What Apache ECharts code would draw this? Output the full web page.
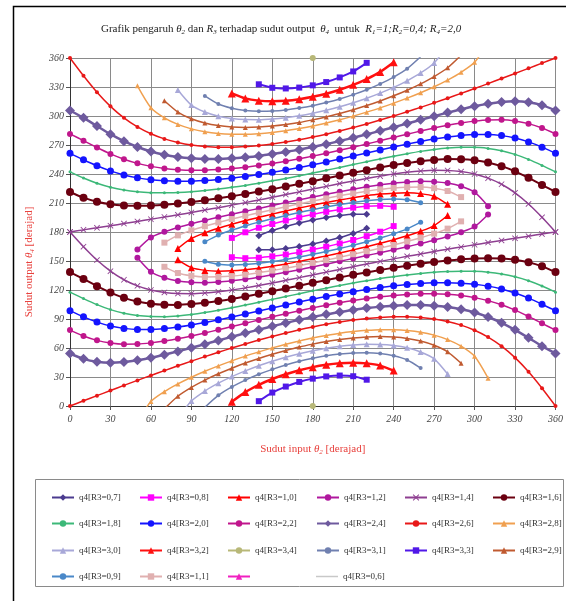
<!DOCTYPE html>
<html><head><meta charset="utf-8">
<script src="https://cdn.jsdelivr.net/npm/echarts@6/dist/echarts.min.js"></script>
<style>html,body{margin:0;padding:0;background:#fff}#c{width:566px;height:601px}</style>
</head><body><div id="c"></div>
<script>
const _ = null;
// input angle theta2 (degrees)
const theta2 = [0,10,20,30,40,50,60,70,80,90,100,110,120,130,140,150,160,170,180,190,200,210,220,230,240,250,260,270,280,290,300,310,320,330,340,350,360];
const xTicks = [0,30,60,90,120,150,180,210,240,270,300,330,360];
const yTicks = [0,30,60,90,120,150,180,210,240,270,300,330,360];

// output angle theta4 (degrees): two branches per R3, null = not assembled
const R3_06_up = [_,_,_,_,_,_,_,_,_,_, _,_,_,_,_,_,_,_, 180.0, _,_,_,_,_,_,_,_,_,_, _,_,_,_,_,_,_,_];
const R3_06_lo = [_,_,_,_,_,_,_,_,_,_, _,_,_,_,_,_,_,_, 180.0, _,_,_,_,_,_,_,_,_,_, _,_,_,_,_,_,_,_];
const R3_07_up = [_,_,_,_,_,_,_,_,_,_, _,_,_,_, 176.2,181.5,185.7,189.3,192.4,195.0,197.1,198.4,198.4, _,_,_,_,_,_,_,_,_,_, _,_,_,_];
const R3_07_lo = [_,_,_,_,_,_,_,_,_,_, _,_,_,_, 161.6,161.6,162.9,165.0,167.6,170.7,174.3,178.5,183.8, _,_,_,_,_,_,_,_,_,_, _,_,_,_];
const R3_08_up = [_,_,_,_,_,_,_,_,_,_, _,_, 173.9,179.7,184.4,188.3,191.9,195.2,198.2,200.9,203.3,205.2,206.6,207.1,206.1, _,_,_,_,_,_,_,_,_,_, _,_];
const R3_08_lo = [_,_,_,_,_,_,_,_,_,_, _,_, 153.9,152.9,153.4,154.8,156.7,159.1,161.8,164.8,168.1,171.7,175.7,180.3,186.1, _,_,_,_,_,_,_,_,_,_, _,_];
const R3_09_up = [_,_,_,_,_,_,_,_,_,_, 169.8,176.8,182.0,186.3,190.2,193.7,197.0,200.2,203.1,205.9,208.4,210.6,212.4,213.7,214.2,213.4,210.3, _,_,_,_,_,_,_,_,_,_];
const R3_09_lo = [_,_,_,_,_,_,_,_,_,_, 149.7,146.6,145.9,146.3,147.6,149.4,151.6,154.1,156.9,159.8,163.0,166.3,169.9,173.7,178.1,183.2,190.2, _,_,_,_,_,_,_,_,_,_];
const R3_10_up = [_,_,_,_,_,_,_,_, 162.9,173.3,179.2,183.9,188.0,191.8,195.2,198.5,201.7,204.8,207.7,210.5,213.1,215.4,217.5,219.2,220.2,220.5,219.7,216.9,208.8, _,_,_,_,_,_,_,_];
const R3_10_lo = [_,_,_,_,_,_,_,_, 151.2,143.1,140.3,139.5,139.8,140.9,142.5,144.6,146.9,149.6,152.3,155.3,158.3,161.5,164.8,168.3,172.0,176.1,180.8,186.7,197.1, _,_,_,_,_,_,_,_];
const R3_11_up = [_,_,_,_,_,_,_, 169.0,176.5,181.7,186.0,189.8,193.4,196.7,199.9,203.0,206.1,209.1,212.0,214.8,217.5,219.9,222.2,224.1,225.6,226.4,226.5,225.3,222.4,216.1, _,_,_,_,_,_,_];
const R3_11_lo = [_,_,_,_,_,_,_, 144.0,137.6,134.7,133.5,133.6,134.4,135.9,137.8,140.1,142.6,145.2,148.0,150.9,153.9,157.0,160.1,163.3,166.6,170.2,174.0,178.3,183.5,191.0, _,_,_,_,_,_,_];
const R3_12_up = [_,_,_,_,_, 161.8,174.4,180.2,184.7,188.5,192.0,195.2,198.3,201.4,204.4,207.4,210.4,213.3,216.2,219.0,221.7,224.3,226.7,228.8,230.5,231.8,232.4,232.1,230.6,227.3,221.2,206.6, _,_,_,_,_];
const R3_12_lo = [_,_,_,_,_, 153.4,138.8,132.7,129.4,127.9,127.6,128.2,129.5,131.2,133.3,135.7,138.3,141.0,143.8,146.7,149.7,152.6,155.6,158.6,161.7,164.8,168.1,171.5,175.3,179.8,185.6,198.2, _,_,_,_,_];
const R3_14_up = [180.0,182.2,184.3,186.5,188.7,190.9,193.2,195.5,197.8,200.2,202.7,205.2,207.8,210.4,213.1,215.9,218.7,221.5,224.4,227.2,230.1,232.8,235.4,237.8,240.0,241.8,243.1,243.8,243.7,242.5,240.0,235.7,229.4,220.5,209.0,195.2,180.0];
const R3_14_lo = [180.0,164.8,151.0,139.5,130.6,124.3,120.0,117.5,116.3,116.2,116.9,118.2,120.0,122.2,124.6,127.2,130.0,132.8,135.6,138.5,141.3,144.1,146.9,149.6,152.2,154.8,157.3,159.8,162.2,164.5,166.8,169.1,171.3,173.5,175.7,177.9,180.0];
const R3_16_up = [221.4,215.5,211.3,208.7,207.4,207.1,207.5,208.3,209.5,211.0,212.8,214.8,217.0,219.3,221.8,224.3,227.0,229.8,232.6,235.5,238.4,241.2,244.0,246.7,249.2,251.4,253.3,254.6,255.4,255.3,254.3,252.0,248.1,242.8,236.0,228.6,221.4];
const R3_16_lo = [138.6,131.4,124.0,117.3,111.9,108.1,105.7,104.7,104.6,105.4,106.8,108.6,110.8,113.3,116.0,118.8,121.6,124.5,127.4,130.2,133.0,135.7,138.2,140.7,143.0,145.2,147.2,149.0,150.5,151.7,152.6,152.9,152.6,151.3,148.7,144.5,138.6];
const R3_18_up = [242.2,235.8,230.4,226.3,223.4,221.6,220.7,220.5,220.9,221.7,222.9,224.4,226.2,228.2,230.5,232.9,235.4,238.1,241.0,243.8,246.8,249.8,252.7,255.6,258.4,261.0,263.4,265.3,266.8,267.6,267.6,266.5,264.1,260.3,255.1,248.9,242.2];
const R3_18_lo = [117.8,111.1,104.9,99.7,95.9,93.5,92.5,92.4,93.2,94.7,96.7,99.0,101.6,104.4,107.3,110.3,113.2,116.2,119.1,121.9,124.6,127.2,129.6,131.8,133.8,135.6,137.1,138.3,139.1,139.5,139.3,138.4,136.6,133.7,129.6,124.2,117.8];
const R3_20_up = [261.4,254.7,248.5,243.2,239.0,236.0,234.0,232.9,232.4,232.6,233.2,234.3,235.7,237.4,239.4,241.7,244.1,246.7,249.5,252.4,255.5,258.6,261.7,264.8,267.9,270.9,273.7,276.2,278.3,279.9,280.8,280.8,279.7,277.2,273.2,267.8,261.4];
const R3_20_lo = [98.6,92.2,86.8,82.8,80.3,79.2,79.2,80.1,81.7,83.8,86.3,89.1,92.1,95.2,98.3,101.4,104.5,107.6,110.5,113.3,115.9,118.3,120.6,122.6,124.3,125.7,126.8,127.4,127.6,127.1,126.0,124.0,121.0,116.9,111.6,105.3,98.6];
const R3_22_up = [281.5,274.5,267.4,260.8,255.3,251.0,247.9,245.8,244.5,243.9,244.0,244.6,245.6,247.0,248.8,250.8,253.2,255.7,258.5,261.4,264.5,267.7,271.0,274.4,277.8,281.2,284.4,287.5,290.4,292.8,294.7,295.9,296.0,294.9,292.1,287.6,281.5];
const R3_22_lo = [78.5,72.4,67.9,65.2,64.0,64.1,65.3,67.2,69.6,72.5,75.6,78.8,82.2,85.6,89.0,92.3,95.5,98.6,101.5,104.3,106.9,109.2,111.2,113.0,114.4,115.4,116.0,116.1,115.5,114.2,112.1,109.0,104.7,99.2,92.6,85.5,78.5];
const R3_24_up = [305.7,298.1,289.6,281.2,273.9,267.9,263.3,259.9,257.6,256.2,255.6,255.6,256.2,257.3,258.7,260.6,262.8,265.2,268.0,270.9,274.1,277.5,281.0,284.7,288.4,292.2,296.0,299.8,303.5,306.9,310.1,312.7,314.6,315.3,314.3,311.2,305.7];
const R3_24_lo = [54.3,48.8,45.7,44.7,45.5,47.3,49.9,53.1,56.5,60.2,64.0,67.8,71.6,75.4,79.0,82.5,85.9,89.1,92.1,94.8,97.3,99.4,101.3,102.8,103.8,104.4,104.4,103.8,102.4,100.1,96.8,92.1,86.1,78.8,70.5,61.9,54.3];
const R3_26_up = [360.0,341.6,324.6,310.0,298.1,288.7,281.6,276.3,272.6,270.0,268.5,267.8,267.8,268.4,269.6,271.1,273.1,275.5,278.2,281.2,284.5,288.0,291.8,295.8,300.0,304.4,308.9,313.6,318.4,323.4,328.4,333.5,338.8,344.0,349.3,354.7,360.0];
const R3_26_lo = [0.0,5.4,10.7,16.0,21.3,26.5,31.6,36.6,41.6,46.4,51.1,55.6,60.0,64.2,68.2,72.0,75.5,78.8,81.8,84.5,86.9,88.9,90.5,91.6,92.2,92.2,91.5,90.0,87.5,83.7,78.4,71.3,61.9,50.0,35.4,18.4,0.0];
const R3_28_up = [_,_,_,_,_, 331.2,308.6,298.1,291.3,286.7,283.7,281.9,281.1,281.0,281.7,283.0,284.7,287.0,289.6,292.7,296.1,299.9,304.0,308.4,313.3,318.5,324.1,330.3,337.2,345.2,355.5,376.0, _,_,_,_,_];
const R3_28_lo = [_,_,_,_,_, -16.0,4.6,14.8,22.8,29.7,35.9,41.5,46.7,51.6,56.0,60.1,63.9,67.3,70.4,73.0,75.3,77.0,78.3,79.0,78.9,78.1,76.4,73.3,68.7,61.9,51.4,28.8, _,_,_,_,_];
const R3_29_up = [_,_,_,_,_,_,_, 315.8,304.1,297.2,292.8,290.1,288.7,288.2,288.6,289.6,291.2,293.3,296.0,299.0,302.6,306.5,310.8,315.6,320.9,326.7,333.3,340.8,349.9,362.9, _,_,_,_,_,_,_];
const R3_29_lo = [_,_,_,_,_,_,_, -2.9,10.1,19.2,26.8,33.3,39.1,44.4,49.2,53.5,57.4,61.0,64.0,66.7,68.8,70.4,71.5,71.8,71.3,69.9,67.2,62.8,56.0,44.2, _,_,_,_,_,_,_];
const R3_30_up = [_,_,_,_,_,_,_,_, 326.9,311.3,304.1,299.8,297.4,296.3,296.2,296.9,298.3,300.3,302.9,306.0,309.6,313.8,318.4,323.7,329.6,336.4,344.5,354.9,372.8, _,_,_,_,_,_,_,_];
const R3_30_lo = [_,_,_,_,_,_,_,_, -12.8,5.2,15.5,23.6,30.4,36.3,41.6,46.2,50.4,54.0,57.1,59.7,61.7,63.1,63.8,63.7,62.6,60.2,55.9,48.8,33.1, _,_,_,_,_,_,_,_];
const R3_31_up = [_,_,_,_,_,_,_,_,_,_, 320.8,312.4,308.1,305.8,305.0,305.2,306.3,308.2,310.7,313.9,317.6,322.1,327.2,333.2,340.3,349.0,361.3, _,_,_,_,_,_,_,_,_,_];
const R3_31_lo = [_,_,_,_,_,_,_,_,_,_, -1.3,11.0,19.7,26.8,32.8,37.9,42.4,46.2,49.3,51.9,53.7,54.8,55.0,54.2,51.9,47.6,39.2, _,_,_,_,_,_,_,_,_,_];
const R3_32_up = [_,_,_,_,_,_,_,_,_,_, _,_, 323.4,318.2,315.9,315.3,315.8,317.4,319.9,323.1,327.2,332.2,338.2,345.6,355.6, _,_,_,_,_,_,_,_,_,_, _,_];
const R3_32_lo = [_,_,_,_,_,_,_,_,_,_, _,_, 4.4,14.4,21.9,27.9,32.8,36.9,40.2,42.6,44.2,44.8,44.1,41.8,36.6, _,_,_,_,_,_,_,_,_,_, _,_];
const R3_33_up = [_,_,_,_,_,_,_,_,_,_, _,_,_,_, 332.8,329.2,328.5,329.4,331.7,335.1,339.9,346.1,355.0, _,_,_,_,_,_,_,_,_,_, _,_,_,_];
const R3_33_lo = [_,_,_,_,_,_,_,_,_,_, _,_,_,_, 5.0,13.9,20.1,24.9,28.3,30.6,31.5,30.8,27.2, _,_,_,_,_,_,_,_,_,_, _,_,_,_];
const R3_34_up = [_,_,_,_,_,_,_,_,_,_, _,_,_,_,_,_,_,_, 360.0, _,_,_,_,_,_,_,_,_,_, _,_,_,_,_,_,_,_];
const R3_34_lo = [_,_,_,_,_,_,_,_,_,_, _,_,_,_,_,_,_,_, 0.0, _,_,_,_,_,_,_,_,_,_, _,_,_,_,_,_,_,_];
const EMPTY = [];

// series in legend order
const curves = [
  ['q4[R3=0,7]', R3_07_up, R3_07_lo], ['q4[R3=0,8]', R3_08_up, R3_08_lo], ['q4[R3=1,0]', R3_10_up, R3_10_lo],
  ['q4[R3=1,2]', R3_12_up, R3_12_lo], ['q4[R3=1,4]', R3_14_up, R3_14_lo], ['q4[R3=1,6]', R3_16_up, R3_16_lo],
  ['q4[R3=1,8]', R3_18_up, R3_18_lo], ['q4[R3=2,0]', R3_20_up, R3_20_lo], ['q4[R3=2,2]', R3_22_up, R3_22_lo],
  ['q4[R3=2,4]', R3_24_up, R3_24_lo], ['q4[R3=2,6]', R3_26_up, R3_26_lo], ['q4[R3=2,8]', R3_28_up, R3_28_lo],
  ['q4[R3=3,0]', R3_30_up, R3_30_lo], ['q4[R3=3,2]', R3_32_up, R3_32_lo], ['q4[R3=3,4]', R3_34_up, R3_34_lo],
  ['q4[R3=3,1]', R3_31_up, R3_31_lo], ['q4[R3=3,3]', R3_33_up, R3_33_lo], ['q4[R3=2,9]', R3_29_up, R3_29_lo],
  ['q4[R3=0,9]', R3_09_up, R3_09_lo], ['q4[R3=1,1]', R3_11_up, R3_11_lo], [' ', EMPTY, EMPTY],
  ['q4[R3=0,6]', R3_06_up, R3_06_lo]
];

// styles (kept apart from data)
const XMARK = 'path://M0,1L1,0L5,4L9,0L10,1L6,5L10,9L9,10L5,6L1,10L0,9L4,5Z';
const looks = {
  'q4[R3=0,7]': {c:'#4b3b8f', s:'diamond', z:7, w:1.5},
  'q4[R3=0,8]': {c:'#ff00ff', s:'rect', z:6, w:1.5},
  'q4[R3=1,0]': {c:'#ff0000', s:'triangle', z:7, w:1.5},
  'q4[R3=1,2]': {c:'#b0189e', s:'circle', z:6, w:1.5},
  'q4[R3=1,4]': {c:'#8e3f91', s:XMARK, z:6, w:1.5},
  'q4[R3=1,6]': {c:'#6b0010', s:'circle', z:8, w:2},
  'q4[R3=1,8]': {c:'#3cb878', s:'circle', z:3, w:1.5},
  'q4[R3=2,0]': {c:'#1414ff', s:'circle', z:7, w:1.5},
  'q4[R3=2,2]': {c:'#c0168c', s:'circle', z:6, w:1.5},
  'q4[R3=2,4]': {c:'#6e5a9e', s:'diamond', z:10, w:2.5},
  'q4[R3=2,6]': {c:'#e81818', s:'circle', z:4, w:1.5},
  'q4[R3=2,8]': {c:'#f0a050', s:'triangle', z:5, w:1.5},
  'q4[R3=3,0]': {c:'#a8a8d8', s:'triangle', z:6, w:1.5},
  'q4[R3=3,2]': {c:'#ff1010', s:'triangle', z:8, w:2.5},
  'q4[R3=3,4]': {c:'#b8b878', s:'circle', z:6, w:1.5},
  'q4[R3=3,1]': {c:'#7080b0', s:'circle', z:4, w:1.5},
  'q4[R3=3,3]': {c:'#5018e8', s:'rect', z:6, w:2},
  'q4[R3=2,9]': {c:'#c05a30', s:'triangle', z:5, w:1.5},
  'q4[R3=0,9]': {c:'#4a88c8', s:'circle', z:5, w:1.5},
  'q4[R3=1,1]': {c:'#e0b0b0', s:'rect', z:6, w:1.5},
  ' ':          {c:'#f020c0', s:'triangle', z:6, w:1.5},
  'q4[R3=0,6]': {c:'#c8c8c8', s:'none', z:0, w:1.5}
};

const serif = '"Liberation Serif","Times New Roman",serif';
const series = [];
curves.forEach(([name, up, lo]) => {
  const L = looks[name];
  [up, lo].forEach(branch => {
    const data = [];
    branch.forEach((v, i) => { if (v !== null) data.push([theta2[i], v]); });
    series.push({
      type: 'line', name, data, smooth: 0.25, clip: true,
      symbol: L.s, symbolSize: L.z, showSymbol: L.s !== 'none',
      lineStyle: {color: L.c, width: L.w},
      itemStyle: {color: L.c},
      emphasis: {disabled: true}, animation: false
    });
  });
});

const colX = [46, 134, 222, 311, 399, 487];
const rowY = [494, 520, 547, 573];
const legends = curves.map(([name], k) => {
  const plain = looks[name].s === 'none';
  return {
    data: [name], left: colX[k % 6], top: rowY[Math.floor(k / 6)] - 6,
    itemWidth: 22, itemHeight: plain ? 1.5 : 8, itemGap: 0, selectedMode: false,
    icon: plain ? 'rect' : undefined,
    textStyle: {fontFamily: serif, fontSize: 9, color: '#333', fontWeight: 'normal'}
  };
});

const sub = {fontFamily: serif, fontSize: 7, fontStyle: 'italic', fontWeight: 'normal', padding: [6, 0, 0, 0]};
const chart = echarts.init(document.getElementById('c'), null, {renderer: 'canvas'});
chart.setOption({
  backgroundColor: '#fff',
  animation: false,
  title: {
    text: '{n|Grafik pengaruh }{i|θ}{s|2}{n| dan }{i|R}{s|3}{n| terhadap sudut output  }{i|θ}{s|4}{n|  untuk  }{i|R}{s|1}{i|=1;R}{s|2}{i|=0,4; R}{s|4}{i|=2,0}',
    left: 96, top: 18,
    textStyle: {
      fontWeight: 'normal',
      rich: {
        n: {fontFamily: serif, fontSize: 11, fontWeight: 'normal', color: '#222'},
        i: {fontFamily: serif, fontSize: 11, fontWeight: 'normal', fontStyle: 'italic', color: '#222'},
        s: Object.assign({color: '#222'}, sub)
      }
    }
  },
  legend: legends,
  grid: {left: 70, right: 9, top: 58, bottom: 195, containLabel: false},
  xAxis: {
    type: 'value', min: xTicks[0], max: xTicks[xTicks.length - 1], interval: 30,
    name: '{n|Sudut input }{i|θ}{s|2}{n| [derajad]}',
    nameLocation: 'middle', nameGap: 37,
    nameTextStyle: {rich: {
      n: {fontFamily: serif, fontSize: 11, color: '#e8403c'},
      i: {fontFamily: serif, fontSize: 11, fontStyle: 'italic', color: '#e8403c'},
      s: Object.assign({color: '#e8403c'}, sub)
    }},
    axisLine: {show: true, onZero: false, lineStyle: {color: '#333', width: 1}},
    axisTick: {show: true, length: 4, lineStyle: {color: '#555'}},
    axisLabel: {fontFamily: serif, fontStyle: 'italic', fontSize: 10, color: '#444', margin: 8},
    splitLine: {show: true, lineStyle: {color: '#8a8a8a', width: 1}}
  },
  yAxis: {
    type: 'value', min: yTicks[0], max: yTicks[yTicks.length - 1], interval: 30,
    name: '{n|Sudut output }{i|θ}{s|4}{n| [derajad]}',
    nameLocation: 'middle', nameGap: 34, nameRotate: 90,
    nameTextStyle: {padding: [0, 60, 0, 0], rich: {
      n: {fontFamily: serif, fontSize: 11, color: '#e8403c'},
      i: {fontFamily: serif, fontSize: 11, fontStyle: 'italic', color: '#e8403c'},
      s: Object.assign({color: '#e8403c'}, sub)
    }},
    axisLine: {show: true, onZero: false, lineStyle: {color: '#333', width: 1}},
    axisTick: {show: true, length: 4, lineStyle: {color: '#555'}},
    axisLabel: {fontFamily: serif, fontStyle: 'italic', fontSize: 10, color: '#444', margin: 6},
    splitLine: {show: true, lineStyle: {color: '#8a8a8a', width: 1}}
  },
  graphic: [
    {type: 'polyline', silent: true, shape: {points: [[13.5, 601], [13.5, 6.5], [566, 6.5]]},
     style: {stroke: '#000', lineWidth: 1.5, fill: null}},
    {type: 'rect', silent: true, z: -1, shape: {x: 35.5, y: 479.5, width: 528, height: 107},
     style: {fill: null, stroke: '#8a8a8a', lineWidth: 1}}
  ],
  series
});
</script></body></html>
